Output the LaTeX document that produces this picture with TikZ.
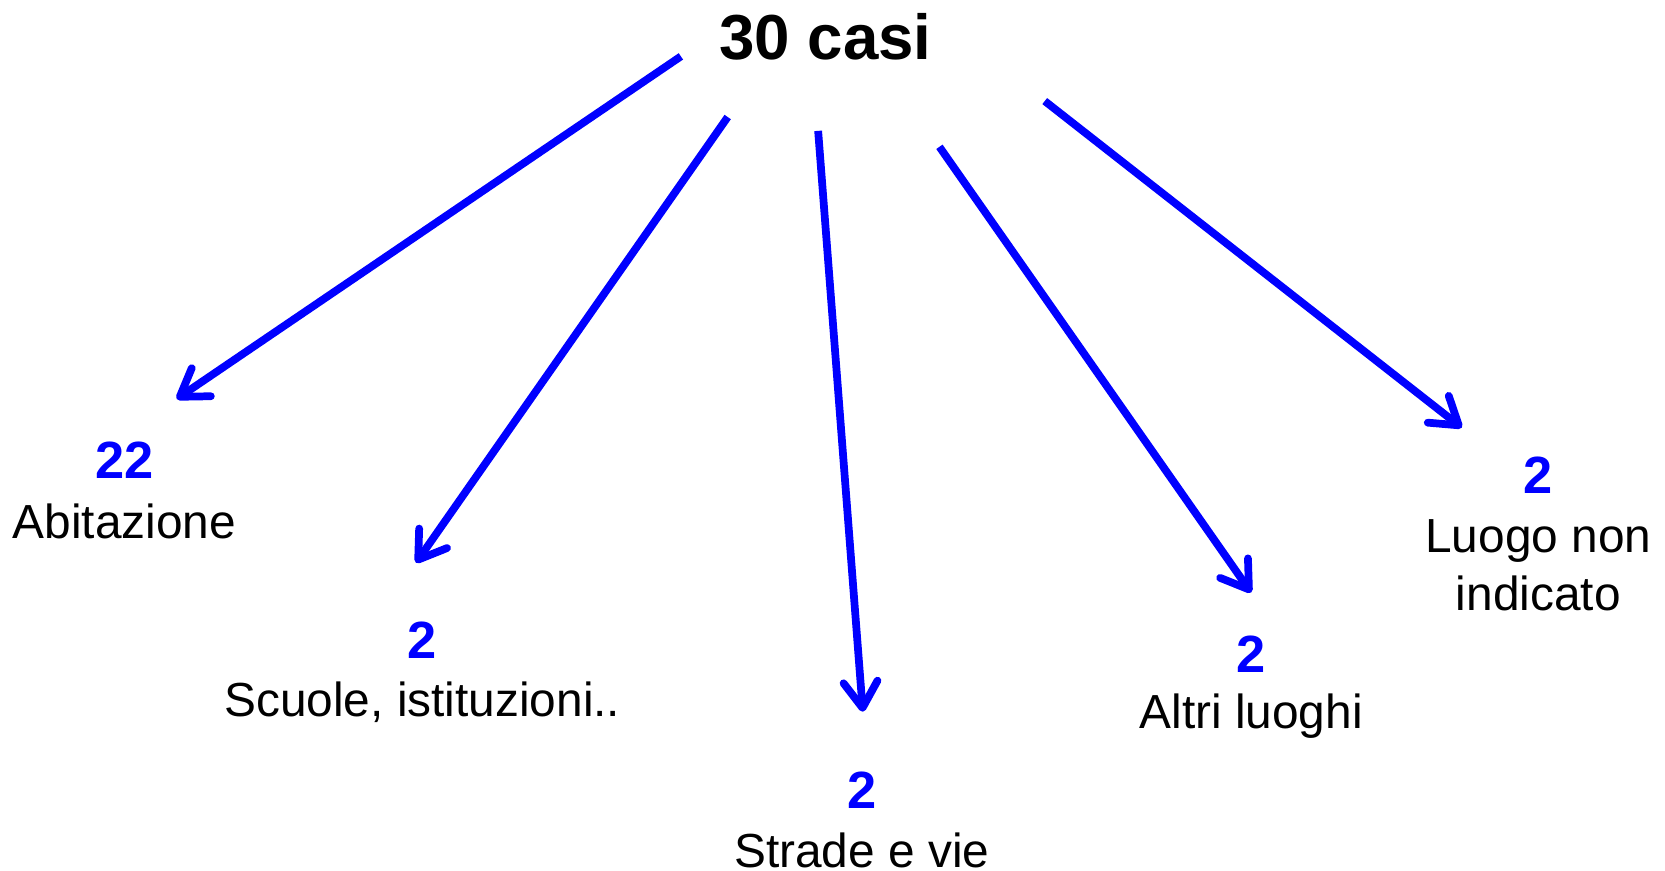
\documentclass[tikz,border=0pt]{standalone}
\usepackage{fontspec}
\setmainfont{Liberation Sans}
\usetikzlibrary{arrows.meta}

\tikzset{
    freccia/.style={draw=blue, line width=2.2pt,
        -{Straight Barb[length=0.26cm, width=0.34cm, round]}},
    numero/.style={text=blue, font=\fontsize{14.9}{17}\selectfont\bfseries, inner sep=0pt},
    luogo/.style={font=\fontsize{13.6}{16.5}\selectfont, inner sep=0pt, align=center}
}

\begin{document}
\begin{tikzpicture}[x=0.01064cm, y=-0.01064cm]
    \useasboundingbox (0,0) rectangle (1565,818);
    \node[font=\fontsize{18.1}{21}\selectfont\bfseries, inner sep=0pt] (totale) at (776,35) {30 casi};

    % numeri e luoghi
    \node[numero] (n1) at (117,433) {22};
    \node[luogo] (l1) at (117,490) {Abitazione};
    \node[numero] (n2) at (397,602) {2};
    \node[luogo] (l2) at (397,660) {Scuole, istituzioni..};
    \node[numero] (n3) at (810,743) {2};
    \node[luogo] (l3) at (810,799) {Strade e vie};
    \node[numero] (n4) at (1176,615) {2};
    \node[luogo] (l4) at (1176,673) {Altri luoghi};
    \node[numero] (n5) at (1446,447) {2};
    \node[luogo] (l5) at (1446,531) {Luogo non\\indicato};

    % frecce
    \coordinate (a1) at (640,53);  \coordinate (b1) at (166,375);
    \coordinate (a2) at (684,110); \coordinate (b2) at (391,529);
    \coordinate (a3) at (769,123); \coordinate (b3) at (811,669);
    \coordinate (a4) at (883,138); \coordinate (b4) at (1176,557);
    \coordinate (a5) at (982,95);  \coordinate (b5) at (1374,402);
    \foreach \i in {1,...,5}
        \draw[freccia] (a\i) -- (b\i);
\end{tikzpicture}
\end{document}
